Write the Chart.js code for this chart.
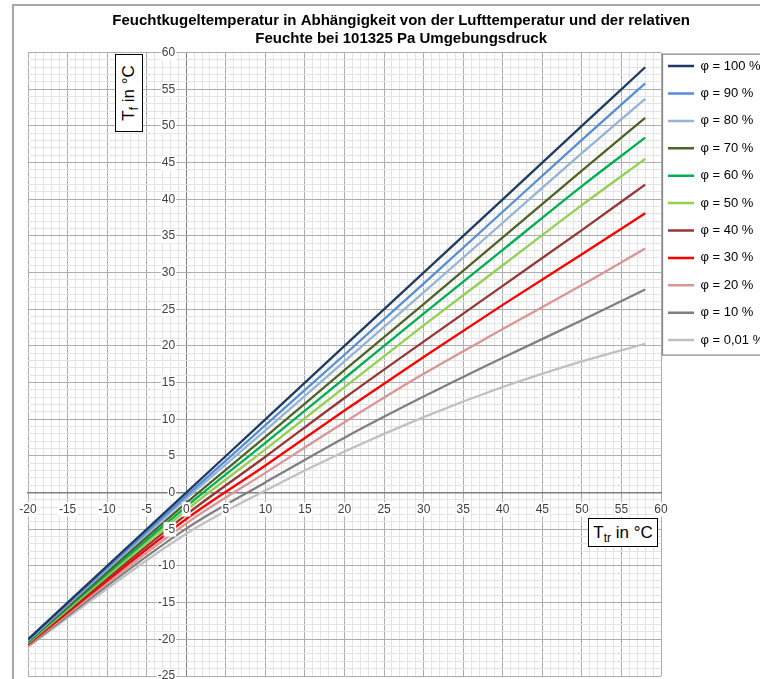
<!DOCTYPE html>
<html><head><meta charset="utf-8">
<script src="https://cdn.jsdelivr.net/npm/chart.js@4.4.1/dist/chart.umd.min.js"></script>
<style>
html,body{margin:0;padding:0;background:#fff;overflow:hidden;width:760px;height:679px;}
#wrap{position:relative;width:760px;height:679px;overflow:hidden;}
#c{position:absolute;left:0;top:0;}
.axt{position:absolute;border:1.5px solid #000;background:#fff;font-family:"Liberation Sans",Arial,sans-serif;font-size:17px;color:#000;box-sizing:border-box;display:flex;align-items:center;justify-content:center;white-space:nowrap;}
.axt sub{font-size:12px;vertical-align:-4px;line-height:0;}
#ty{left:115px;top:54px;width:28px;height:78px;}
#ty span{display:inline-block;transform:rotate(-90deg);}
#tx{left:588px;top:518px;width:70px;height:29px;}
</style></head>
<body><div id="wrap"><canvas id="c"></canvas>
<div class="axt" id="ty"><span>T<sub>f</sub> in °C</span></div>
<div class="axt" id="tx"><span>T<sub>tr</sub> in °C</span></div>
</div>
<script>
// ---- data ----
const xValues = [-20, 0, 10, 20, 30, 40, 50, 58];
const seriesLabels = ['φ = 100 %', 'φ = 90 %', 'φ = 80 %', 'φ = 70 %', 'φ = 60 %', 'φ = 50 %', 'φ = 40 %', 'φ = 30 %', 'φ = 20 %', 'φ = 10 %', 'φ = 0,01 %'];
const phi100 = [-20, 0, 10, 20, 30, 40, 50, 58];
const phi90  = [-20.1, -0.45, 9.2, 18.8, 28.5, 38.3, 48.1, 55.8];
const phi80  = [-20.2, -0.8, 8.5, 17.9, 27.3, 36.8, 46.3, 53.7];
const phi70  = [-20.3, -1.4, 7.6, 16.7, 25.7, 34.8, 43.9, 51.1];
const phi60  = [-20.4, -1.9, 6.8, 15.6, 24.4, 33.1, 41.8, 48.4];
const phi50  = [-20.5, -2.4, 5.9, 14.4, 22.8, 31.0, 39.2, 45.5];
const phi40  = [-20.6, -3.0, 4.9, 12.9, 20.6, 28.2, 35.8, 42.0];
const phi30  = [-20.7, -3.6, 3.7, 11.2, 18.5, 25.6, 32.5, 38.1];
const phi20  = [-20.8, -4.2, 2.7, 9.6, 16.2, 22.3, 28.3, 33.3];
const phi10  = [-20.9, -4.9, 1.4, 7.5, 13.1, 18.4, 23.5, 27.7];
const phi001 = [-21.0, -5.6, 0.3, 5.6, 10.3, 14.4, 17.9, 20.3];
const seriesValues = [phi100, phi90, phi80, phi70, phi60, phi50, phi40, phi30, phi20, phi10, phi001];
const titleLines = ['Feuchtkugeltemperatur in Abhängigkeit von der Lufttemperatur und der relativen', 'Feuchte bei 101325 Pa Umgebungsdruck'];

// ---- styles ----
const colors = ['#1f3b63', '#558ed5', '#95b3d7', '#4f6228', '#00b050', '#92d050', '#953735', '#ff0000', '#da9694', '#7f7f7f', '#c0c0c0'];
const FONT = "'Liberation Sans', Arial, sans-serif";
const MAJOR = '#adadad', MINOR = '#e4e4e4', AXIS = '#7f7f7f';
const PLOT_LEFT = 28, PLOT_RIGHT = 661, CANVAS_H = 690, PLOT_BOTTOM = 676;
const LEG_PAD = 7, LEG_BOX = 26, LEG_FONT = 13, LEG_STEP = 27.4;

const mctx = document.createElement('canvas').getContext('2d');
mctx.font = LEG_FONT + 'px ' + FONT;
const maxText = Math.max(...seriesLabels.map(t => mctx.measureText(t).width));
const legendW = LEG_PAD + LEG_BOX + LEG_FONT / 2 + maxText + 10;
const W = Math.ceil(PLOT_RIGHT + legendW + PLOT_LEFT);
const padRight = W - PLOT_RIGHT - legendW;

const cv = document.getElementById('c');
cv.width = W; cv.height = CANVAS_H;
cv.style.width = W + 'px'; cv.style.height = CANVAS_H + 'px';

const isMajor = v => Math.abs(v % 5) < 1e-6;
const gridColor = c => (Math.abs(c.tick.value) < 1e-6 ? AXIS : (isMajor(c.tick.value) ? MAJOR : MINOR));
const tickCb = v => (isMajor(v) ? String(Math.round(v)) : '');
const hasLabel = c => c.tick && c.tick.label !== '' && c.tick.label !== undefined;

const framePlugin = {
  id: 'frame',
  beforeDraw(chart) {
    const c = chart.ctx;
    c.save();
    c.fillStyle = '#fff';
    c.fillRect(0, 0, chart.width, chart.height);
    c.strokeStyle = '#8c8c8c';
    c.lineWidth = 1.5;
    c.beginPath();
    c.moveTo(13, chart.height);
    c.lineTo(13, 5);
    c.lineTo(chart.width, 5);
    c.stroke();
    c.restore();
  },
  afterDraw(chart) {
    const lg = chart.legend;
    if (!lg || !lg.legendHitBoxes || !lg.legendHitBoxes.length) return;
    const hb = lg.legendHitBoxes;
    const top = hb[0].top + LEG_FONT / 2 - 12;
    const bottom = hb[hb.length - 1].top + LEG_FONT / 2 + 15;
    const c = chart.ctx;
    c.save();
    c.strokeStyle = '#8c8c8c';
    c.lineWidth = 1.3;
    c.strokeRect(chart.chartArea.right + 1.5, top, chart.width, bottom - top);
    c.restore();
  }
};

new Chart(cv, {
  type: 'line',
  data: {
    datasets: seriesLabels.map((lab, i) => ({
      label: lab,
      data: xValues.map((x, j) => ({x: x, y: seriesValues[i][j]})),
      borderColor: colors[i],
      backgroundColor: colors[i],
      borderWidth: 2.3,
      pointRadius: 0,
      pointHoverRadius: 0,
      cubicInterpolationMode: 'monotone',
      fill: false
    }))
  },
  options: {
    responsive: false,
    animation: false,
    events: [],
    layout: {padding: {left: PLOT_LEFT, right: padRight, top: 0, bottom: CANVAS_H - PLOT_BOTTOM}},
    plugins: {
      title: {
        display: true, text: titleLines, color: '#000',
        font: {family: FONT, size: 15, weight: 'bold', lineHeight: 17.5 / 15},
        padding: {top: 12.2, bottom: 5.4}
      },
      legend: {
        position: 'right', align: 'start', fullSize: false,
        labels: {
          usePointStyle: true, pointStyle: 'line', pointStyleWidth: LEG_BOX, boxWidth: LEG_BOX,
          padding: LEG_PAD, color: '#000',
          font: {family: FONT, size: LEG_FONT, lineHeight: (LEG_STEP - LEG_PAD) / LEG_FONT},
          generateLabels: chart => chart.data.datasets.map((ds, i) => ({
            text: [ds.label], fillStyle: ds.borderColor, strokeStyle: ds.borderColor,
            lineWidth: 2.5, pointStyle: 'line', hidden: false, datasetIndex: i
          }))
        }
      },
      tooltip: {enabled: false}
    },
    scales: {
      x: {
        type: 'linear', min: -20, max: 60, position: {y: 0},
        grid: {color: gridColor, lineWidth: 1, drawTicks: false},
        border: {color: AXIS, width: 1.5},
        ticks: {
          stepSize: 1, autoSkip: false, maxRotation: 0, minRotation: 0, padding: 9.5,
          callback: tickCb, color: '#404040', font: {family: FONT, size: 12}, z: 1,
          showLabelBackdrop: hasLabel, backdropColor: '#fff', backdropPadding: {top: 0, bottom: 0, left: 1, right: 1}
        }
      },
      y: {
        type: 'linear', min: -25, max: 60, position: {x: -1.4},
        grid: {color: gridColor, lineWidth: 1, drawTicks: false},
        border: {display: false},
        ticks: {
          stepSize: 1, autoSkip: false, padding: 0,
          callback: tickCb, color: '#404040', font: {family: FONT, size: 12}, z: 1,
          showLabelBackdrop: hasLabel, backdropColor: '#fff', backdropPadding: {top: 0, bottom: 0, left: 1, right: 1}
        }
      }
    }
  },
  plugins: [framePlugin]
});
</script>
</body></html>
